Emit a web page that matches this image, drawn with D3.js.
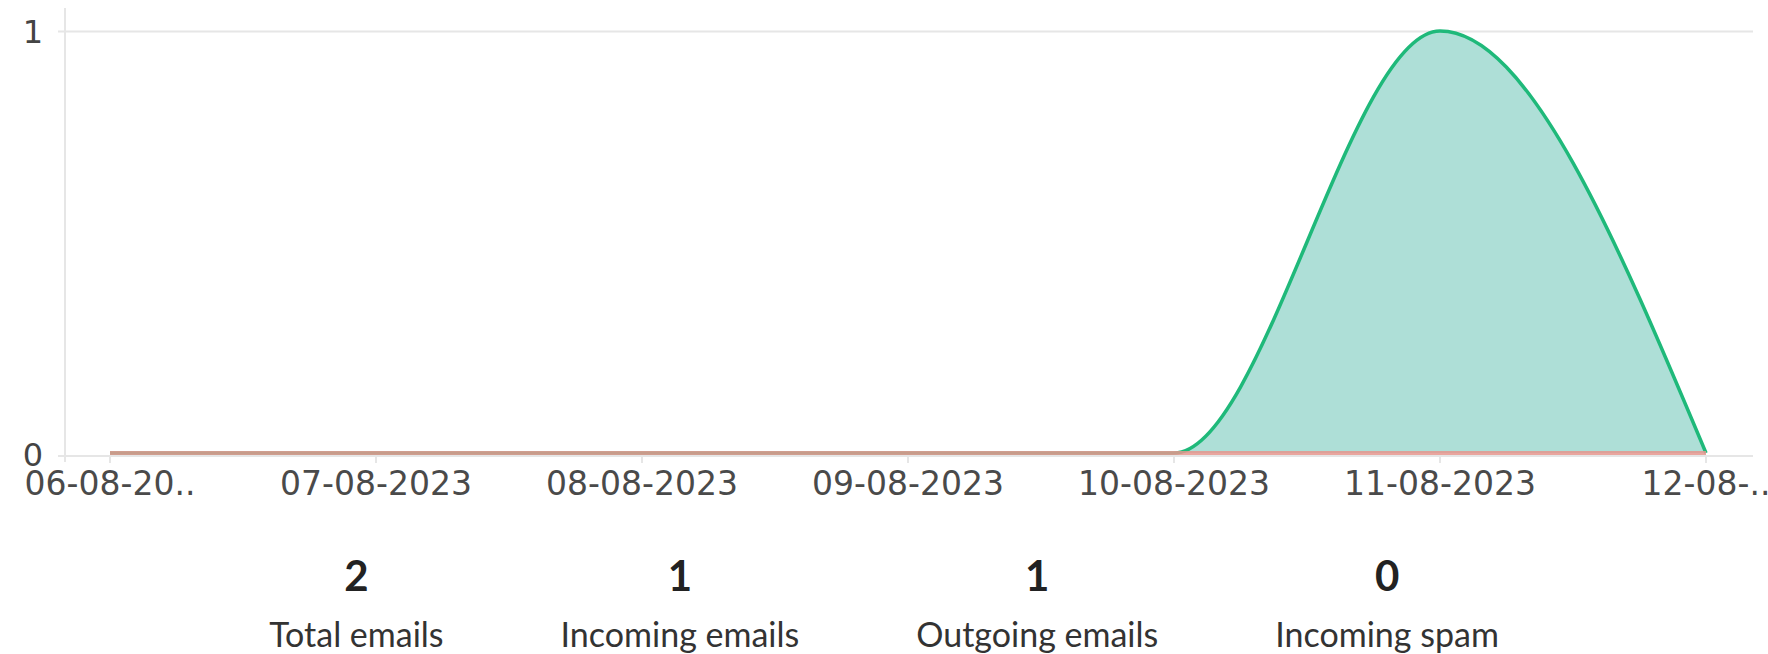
<!DOCTYPE html>
<html>
<head>
<meta charset="utf-8">
<script src="https://cdn.jsdelivr.net/npm/d3@7"></script>
<style>
  body { margin: 0; background: #fff; overflow: hidden; }
  svg { display: block; }
</style>
</head>
<body>
<script>
// chart data
let dates = ["06-08-2023", "07-08-2023", "08-08-2023", "09-08-2023", "10-08-2023", "11-08-2023", "12-08-2023"];
let tickLabels = ["06-08-20..", "07-08-2023", "08-08-2023", "09-08-2023", "10-08-2023", "11-08-2023", "12-08-.."];
let emailCounts = [0, 0, 0, 0, 0, 1, 0];
let spamCounts = [0, 0, 0, 0, 0, 0, 0];
let yTicks = [0, 1];
let statValues = [2, 1, 1, 0];
let statLabels = ["Total emails", "Incoming emails", "Outgoing emails", "Incoming spam"];

let width = 1768,
    height = 654;

let svg = d3.select("body").append("svg")
    .attr("width", width)
    .attr("height", height);

let x = d3.scalePoint()
    .domain(dates)
    .range([110, 1706]);

let y = d3.scaleLinear()
    .domain([0, 1])
    .range([453, 31]);

// grid + axes
let grid = svg.append("g");
grid.selectAll("line.h")
    .data(yTicks)
    .enter()
    .append("line")
    .attr("x1", 58)
    .attr("x2", 1753)
    .attr("y1", d => d == 0 ? 456 : y(d) + 0.5)
    .attr("y2", d => d == 0 ? 456 : y(d) + 0.5)
    .attr("stroke", "#e6e6e6")
    .attr("stroke-width", 2);

grid.append("line")
    .attr("x1", 65).attr("x2", 65)
    .attr("y1", 8).attr("y2", 462)
    .attr("stroke", "#e6e6e6")
    .attr("stroke-width", 2);

grid.selectAll("line.t")
    .data(dates)
    .enter()
    .append("line")
    .attr("x1", d => x(d)).attr("x2", d => x(d))
    .attr("y1", 456).attr("y2", 463)
    .attr("stroke", "#e6e6e6")
    .attr("stroke-width", 2);

svg.append("g")
    .selectAll("text")
    .data(yTicks)
    .enter()
    .append("text")
    .attr("x", 43)
    .attr("y", d => d == 0 ? 455 : y(d) + 1)
    .attr("text-anchor", "end")
    .attr("dominant-baseline", "central")
    .attr("font-family", "DejaVu Sans")
    .attr("font-size", 32)
    .attr("fill", "#444")
    .text(d => d);

svg.append("g")
    .selectAll("text")
    .data(dates)
    .enter()
    .append("text")
    .attr("x", d => x(d))
    .attr("y", 495)
    .attr("text-anchor", "middle")
    .attr("font-family", "DejaVu Sans")
    .attr("font-size", 33)
    .attr("fill", "#4a4a4a")
    .text((d, i) => tickLabels[i]);

// series
let rows = dates.map((d, i) => ({date: d, emails: emailCounts[i], spam: spamCounts[i]}));

let area = d3.area()
    .x(d => x(d.date))
    .y0(y(0))
    .y1(d => y(d.emails))
    .curve(d3.curveMonotoneX);

let emailLine = d3.line()
    .x(d => x(d.date))
    .y(d => y(d.emails))
    .curve(d3.curveMonotoneX);

let spamLine = d3.line()
    .x(d => x(d.date))
    .y(d => y(d.spam))
    .curve(d3.curveMonotoneX);

svg.append("path")
    .datum(rows)
    .attr("d", area)
    .attr("fill", "#aedfd7");

svg.append("path")
    .datum(rows)
    .attr("d", emailLine)
    .attr("fill", "none")
    .attr("stroke", "#1fb97a")
    .attr("stroke-width", 3.5);

svg.append("path")
    .datum(rows)
    .attr("d", spamLine)
    .attr("fill", "none")
    .attr("stroke", "rgba(229,150,142,0.85)")
    .attr("stroke-width", 4);

// stats below the chart
let stats = svg.append("g");
let items = stats.selectAll("g")
    .data(statValues)
    .enter()
    .append("g");

items.append("text")
    .attr("class", "val")
    .attr("y", 591)
    .attr("text-anchor", "middle")
    .attr("font-family", "Lato")
    .attr("font-weight", "bold")
    .attr("font-size", 42)
    .attr("fill", "#222")
    .text(d => d);

items.append("text")
    .attr("class", "lbl")
    .attr("y", 647)
    .attr("text-anchor", "middle")
    .attr("font-family", "Lato")
    .attr("font-size", 34)
    .attr("fill", "#333")
    .text((d, i) => statLabels[i]);

let gap = 117;
let widths = [];
items.each(function() {
    widths.push(d3.select(this).select(".lbl").node().getComputedTextLength());
});
let total = d3.sum(widths) + gap * (widths.length - 1);
let cursor = width / 2 - total / 2;
items.each(function(d, i) {
    d3.select(this).attr("transform", `translate(${cursor + widths[i] / 2},0)`);
    cursor += widths[i] + gap;
});
</script>
</body>
</html>
